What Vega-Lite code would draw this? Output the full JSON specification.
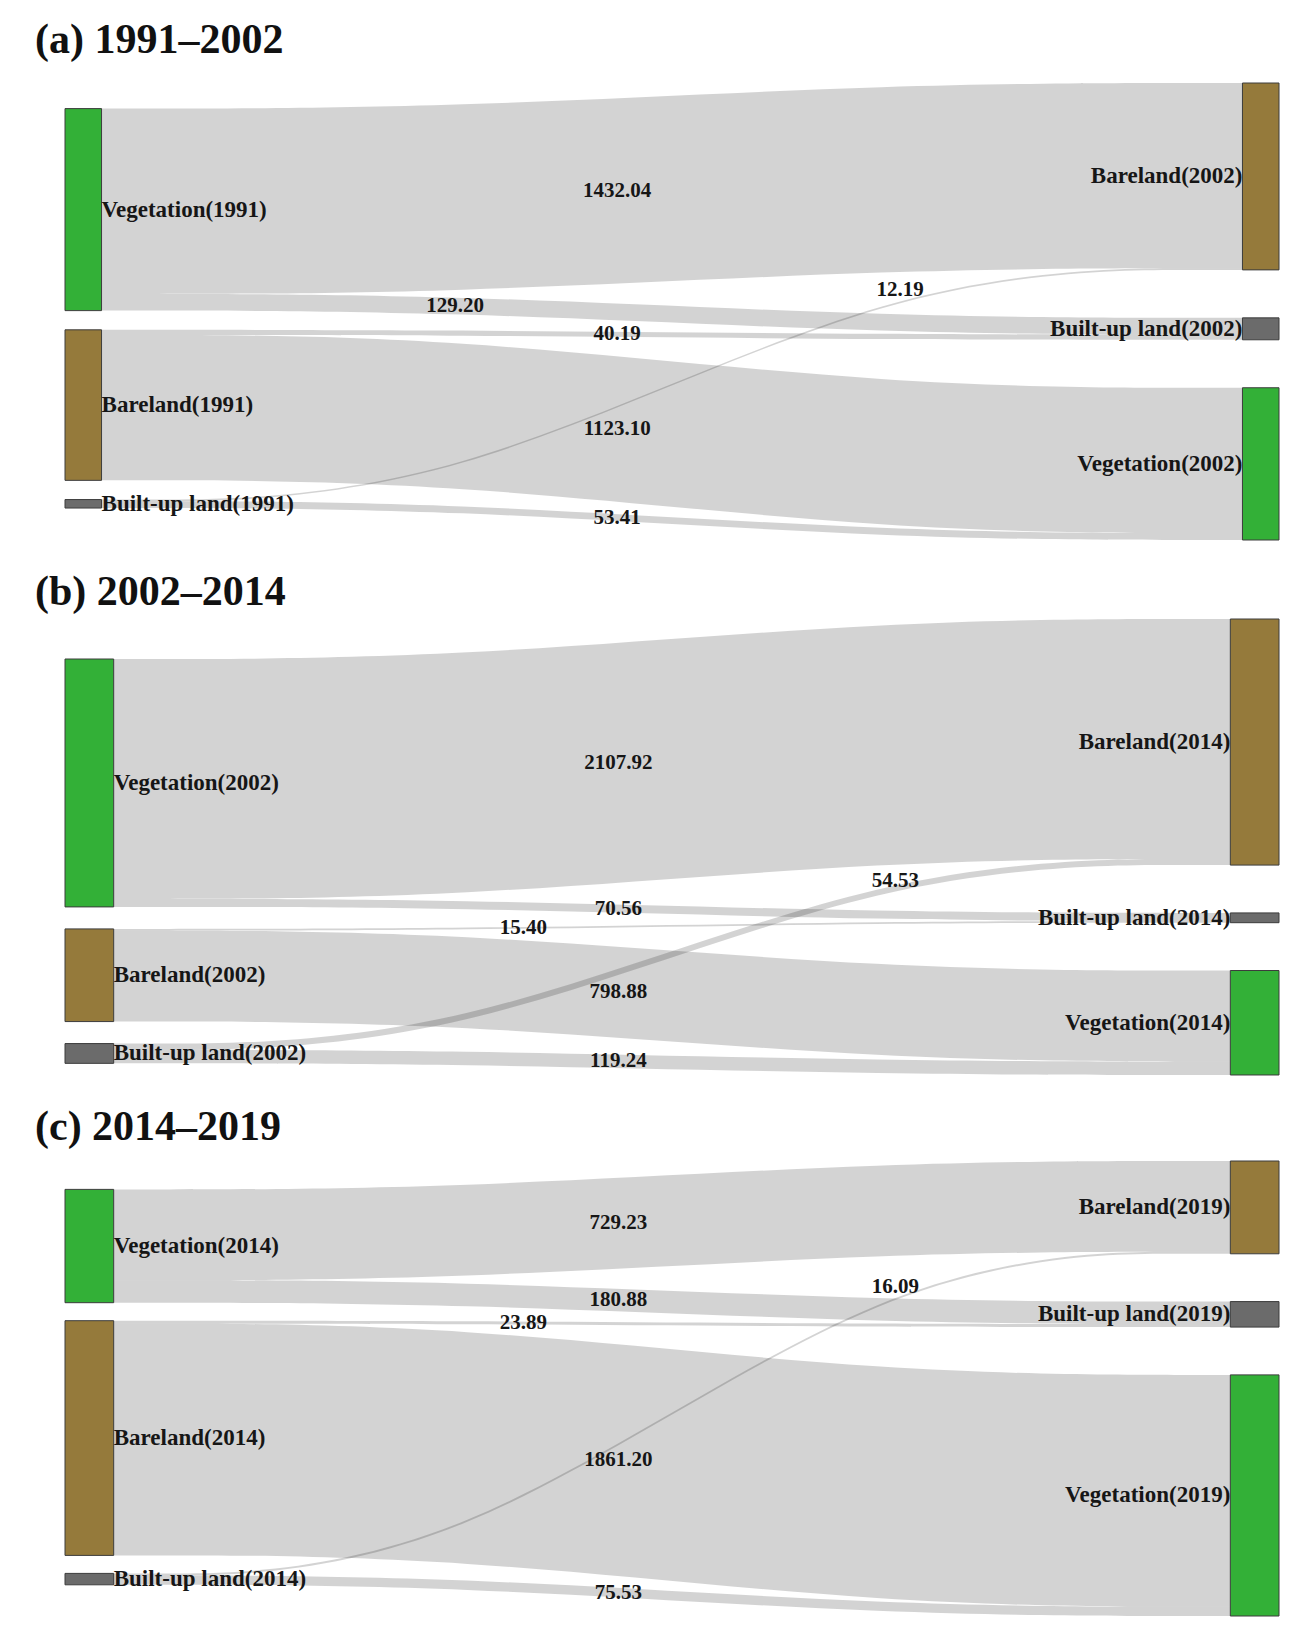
{
  "$schema": "https://vega.github.io/schema/vega-lite/v6.json",
  "background": "white",
  "padding": {"left": 35, "top": 18, "right": 5, "bottom": 5},
  "spacing": 29,
  "config": {
    "view": {"stroke": null},
    "font": "Liberation Serif",
    "title": {"font": "Liberation Serif", "fontSize": 42, "fontWeight": "bold", "anchor": "start", "frame": "group", "color": "#111111"},
    "text": {"font": "Liberation Serif", "fontWeight": "bold", "color": "#161616"}
  },
  "datasets": {
    "flows": [
      {"panel": "a", "from": "Vegetation", "to": "Bareland", "fromYear": "1991", "toYear": "2002", "value": 1432.04},
      {"panel": "a", "from": "Vegetation", "to": "Built-up land", "fromYear": "1991", "toYear": "2002", "value": 129.20},
      {"panel": "a", "from": "Bareland", "to": "Built-up land", "fromYear": "1991", "toYear": "2002", "value": 40.19},
      {"panel": "a", "from": "Bareland", "to": "Vegetation", "fromYear": "1991", "toYear": "2002", "value": 1123.10},
      {"panel": "a", "from": "Built-up land", "to": "Bareland", "fromYear": "1991", "toYear": "2002", "value": 12.19},
      {"panel": "a", "from": "Built-up land", "to": "Vegetation", "fromYear": "1991", "toYear": "2002", "value": 53.41},
      {"panel": "b", "from": "Vegetation", "to": "Bareland", "fromYear": "2002", "toYear": "2014", "value": 2107.92},
      {"panel": "b", "from": "Vegetation", "to": "Built-up land", "fromYear": "2002", "toYear": "2014", "value": 70.56},
      {"panel": "b", "from": "Bareland", "to": "Built-up land", "fromYear": "2002", "toYear": "2014", "value": 15.40},
      {"panel": "b", "from": "Bareland", "to": "Vegetation", "fromYear": "2002", "toYear": "2014", "value": 798.88},
      {"panel": "b", "from": "Built-up land", "to": "Bareland", "fromYear": "2002", "toYear": "2014", "value": 54.53},
      {"panel": "b", "from": "Built-up land", "to": "Vegetation", "fromYear": "2002", "toYear": "2014", "value": 119.24},
      {"panel": "c", "from": "Vegetation", "to": "Bareland", "fromYear": "2014", "toYear": "2019", "value": 729.23},
      {"panel": "c", "from": "Vegetation", "to": "Built-up land", "fromYear": "2014", "toYear": "2019", "value": 180.88},
      {"panel": "c", "from": "Bareland", "to": "Built-up land", "fromYear": "2014", "toYear": "2019", "value": 23.89},
      {"panel": "c", "from": "Bareland", "to": "Vegetation", "fromYear": "2014", "toYear": "2019", "value": 1861.20},
      {"panel": "c", "from": "Built-up land", "to": "Bareland", "fromYear": "2014", "toYear": "2019", "value": 16.09},
      {"panel": "c", "from": "Built-up land", "to": "Vegetation", "fromYear": "2014", "toYear": "2019", "value": 75.53}
    ]
  },
  "data": {"name": "flows"},
  "transform": [
    {"calculate": "indexof(['Vegetation','Bareland','Built-up land'], datum.from)", "as": "si"},
    {"calculate": "indexof(['Bareland','Built-up land','Vegetation'], datum.to)", "as": "ti"},
    {"window": [{"op": "sum", "field": "value", "as": "sCum"}], "groupby": ["panel"], "sort": [{"field": "si"}, {"field": "ti"}], "frame": [null, 0]},
    {"window": [{"op": "sum", "field": "value", "as": "tCum"}], "groupby": ["panel"], "sort": [{"field": "ti"}, {"field": "si"}], "frame": [null, 0]},
    {"calculate": "datum.panel=='a' ? 197.8 : datum.panel=='b' ? 351.5 : 228", "as": "oL"},
    {"calculate": "datum.panel=='a' ? 148.4 : datum.panel=='b' ? 193.3 : 144.6", "as": "gL"},
    {"calculate": "datum.panel=='a' ? 370.8 : datum.panel=='b' ? 420.2 : 383.9", "as": "gR"},
    {"calculate": "datum.panel=='a' ? 0.0301 : 0.0401", "as": "nw"},
    {"calculate": "datum.oL + datum.si*datum.gL + datum.sCum - datum.value", "as": "sTop"},
    {"calculate": "datum.sTop + datum.value", "as": "sBot"},
    {"calculate": "datum.ti*datum.gR + datum.tCum - datum.value", "as": "tTop"},
    {"calculate": "datum.tTop + datum.value", "as": "tBot"},
    {"calculate": "(datum.from=='Built-up land' && datum.to=='Bareland') ? 0.7 : (datum.panel=='a' && datum.from=='Vegetation' && datum.to=='Built-up land') ? 0.31 : (datum.panel!='a' && datum.from=='Bareland' && datum.to=='Built-up land') ? 0.367 : 0.452", "as": "lt"},
    {"calculate": "datum.nw + datum.lt*(1-2*datum.nw)", "as": "lx"},
    {"calculate": "datum.lt - (1.5*datum.lt - 1.5*datum.lt*datum.lt + datum.lt*datum.lt*datum.lt - datum.lt)/(1.5 - 3*datum.lt + 3*datum.lt*datum.lt)", "as": "bt"},
    {"calculate": "(datum.sTop+datum.sBot)/2 + ((datum.tTop+datum.tBot)/2 - (datum.sTop+datum.sBot)/2) * (3*datum.bt*datum.bt - 2*datum.bt*datum.bt*datum.bt)", "as": "ly"}
  ],
  "vconcat": [
    {
      "title": {"text": "(a) 1991–2002", "offset": 21, "dx": -30},
      "width": 1214, "height": 457,
      "transform": [{"filter": "datum.panel=='a'"}],
      "layer": [
        {
          "transform": [
            {"fold": ["sTop", "sBot", "tTop", "tBot"], "as": ["knot", "kv"]},
            {"calculate": "datum.knot=='sTop' ? datum.nw : datum.knot=='sBot' ? datum.nw+0.3*(1-2*datum.nw) : datum.knot=='tTop' ? 1-datum.nw-0.3*(1-2*datum.nw) : 1-datum.nw", "as": "px"},
            {"calculate": "(datum.knot=='sTop' || datum.knot=='sBot') ? datum.sTop : datum.tTop", "as": "ya"},
            {"calculate": "(datum.knot=='sTop' || datum.knot=='sBot') ? datum.sBot : datum.tBot", "as": "yb"},
            {"calculate": "datum.from + '>' + datum.to", "as": "link"}
          ],
          "mark": {"type": "area", "orient": "vertical", "interpolate": "basis", "fill": "#000000", "fillOpacity": 0.172, "strokeWidth": 0},
          "encoding": {
            "x": {"field": "px", "type": "quantitative", "scale": {"domain": [0, 1], "nice": false, "zero": false}, "axis": null},
            "y": {"field": "ya", "type": "quantitative", "scale": {"domain": [0, 3531.7], "reverse": true, "nice": false, "zero": false}, "axis": null, "stack": null},
            "y2": {"field": "yb"},
            "detail": {"field": "link", "type": "nominal"}
          }
        },
        {
          "transform": [
            {"fold": ["from", "to"], "as": ["side", "cls"]},
            {"calculate": "datum.side=='from' ? datum.sTop : datum.tTop", "as": "top"},
            {"calculate": "datum.side=='from' ? datum.sBot : datum.tBot", "as": "bot"},
            {"calculate": "datum.side=='from' ? datum.fromYear : datum.toYear", "as": "yr"},
            {"aggregate": [{"op": "min", "field": "top", "as": "top"}, {"op": "max", "field": "bot", "as": "bot"}], "groupby": ["side", "cls", "yr", "nw"]},
            {"calculate": "datum.side=='from' ? 0 : 1-datum.nw", "as": "xa"},
            {"calculate": "datum.side=='from' ? datum.nw : 1", "as": "xb"},
            {"calculate": "datum.cls + '(' + datum.yr + ')'", "as": "label"},
            {"calculate": "(datum.top+datum.bot)/2", "as": "mid"}
          ],
          "layer": [
            {
              "mark": {"type": "rect", "stroke": "#3c3c3c", "strokeWidth": 1},
              "encoding": {
                "x": {"field": "xa", "type": "quantitative", "scale": {"domain": [0, 1], "nice": false, "zero": false}, "axis": null},
                "x2": {"field": "xb"},
                "y": {"field": "top", "type": "quantitative", "scale": {"domain": [0, 3531.7], "reverse": true, "nice": false, "zero": false}, "axis": null},
                "y2": {"field": "bot"},
                "fill": {"field": "cls", "type": "nominal", "scale": {"domain": ["Vegetation", "Bareland", "Built-up land"], "range": ["#33b037", "#957a3b", "#6b6b6b"]}, "legend": null}
              }
            },
            {
              "transform": [{"filter": "datum.side=='from'"}],
              "mark": {"type": "text", "align": "left", "baseline": "middle", "fontSize": 23},
              "encoding": {
                "x": {"field": "xb", "type": "quantitative", "scale": {"domain": [0, 1], "nice": false, "zero": false}, "axis": null},
                "y": {"field": "mid", "type": "quantitative", "scale": {"domain": [0, 3531.7], "reverse": true, "nice": false, "zero": false}, "axis": null},
                "text": {"field": "label"}
              }
            },
            {
              "transform": [{"filter": "datum.side=='to'"}],
              "mark": {"type": "text", "align": "right", "baseline": "middle", "fontSize": 23},
              "encoding": {
                "x": {"field": "xa", "type": "quantitative", "scale": {"domain": [0, 1], "nice": false, "zero": false}, "axis": null},
                "y": {"field": "mid", "type": "quantitative", "scale": {"domain": [0, 3531.7], "reverse": true, "nice": false, "zero": false}, "axis": null},
                "text": {"field": "label"}
              }
            }
          ]
        },
        {
          "transform": [{"filter": "!(datum.from=='Built-up land' && datum.to=='Bareland')"}],
          "mark": {"type": "text", "align": "center", "baseline": "middle", "fontSize": 21},
          "encoding": {
            "x": {"field": "lx", "type": "quantitative", "scale": {"domain": [0, 1], "nice": false, "zero": false}, "axis": null},
            "y": {"field": "ly", "type": "quantitative", "scale": {"domain": [0, 3531.7], "reverse": true, "nice": false, "zero": false}, "axis": null},
            "text": {"field": "value", "type": "quantitative", "format": ".2f"}
          }
        },
        {
          "transform": [{"filter": "datum.from=='Built-up land' && datum.to=='Bareland'"}],
          "mark": {"type": "text", "align": "center", "baseline": "middle", "fontSize": 21, "dy": -16},
          "encoding": {
            "x": {"field": "lx", "type": "quantitative", "scale": {"domain": [0, 1], "nice": false, "zero": false}, "axis": null},
            "y": {"field": "ly", "type": "quantitative", "scale": {"domain": [0, 3531.7], "reverse": true, "nice": false, "zero": false}, "axis": null},
            "text": {"field": "value", "type": "quantitative", "format": ".2f"}
          }
        }
      ]
    },
    {
      "title": {"text": "(b) 2002–2014", "offset": 5, "dx": -30},
      "width": 1214, "height": 456,
      "transform": [{"filter": "datum.panel=='b'"}],
      "layer": [
        {
          "transform": [
            {"fold": ["sTop", "sBot", "tTop", "tBot"], "as": ["knot", "kv"]},
            {"calculate": "datum.knot=='sTop' ? datum.nw : datum.knot=='sBot' ? datum.nw+0.3*(1-2*datum.nw) : datum.knot=='tTop' ? 1-datum.nw-0.3*(1-2*datum.nw) : 1-datum.nw", "as": "px"},
            {"calculate": "(datum.knot=='sTop' || datum.knot=='sBot') ? datum.sTop : datum.tTop", "as": "ya"},
            {"calculate": "(datum.knot=='sTop' || datum.knot=='sBot') ? datum.sBot : datum.tBot", "as": "yb"},
            {"calculate": "datum.from + '>' + datum.to", "as": "link"}
          ],
          "mark": {"type": "area", "orient": "vertical", "interpolate": "basis", "fill": "#000000", "fillOpacity": 0.172, "strokeWidth": 0},
          "encoding": {
            "x": {"field": "px", "type": "quantitative", "scale": {"domain": [0, 1], "nice": false, "zero": false}, "axis": null},
            "y": {"field": "ya", "type": "quantitative", "scale": {"domain": [0, 4007], "reverse": true, "nice": false, "zero": false}, "axis": null, "stack": null},
            "y2": {"field": "yb"},
            "detail": {"field": "link", "type": "nominal"}
          }
        },
        {
          "transform": [
            {"fold": ["from", "to"], "as": ["side", "cls"]},
            {"calculate": "datum.side=='from' ? datum.sTop : datum.tTop", "as": "top"},
            {"calculate": "datum.side=='from' ? datum.sBot : datum.tBot", "as": "bot"},
            {"calculate": "datum.side=='from' ? datum.fromYear : datum.toYear", "as": "yr"},
            {"aggregate": [{"op": "min", "field": "top", "as": "top"}, {"op": "max", "field": "bot", "as": "bot"}], "groupby": ["side", "cls", "yr", "nw"]},
            {"calculate": "datum.side=='from' ? 0 : 1-datum.nw", "as": "xa"},
            {"calculate": "datum.side=='from' ? datum.nw : 1", "as": "xb"},
            {"calculate": "datum.cls + '(' + datum.yr + ')'", "as": "label"},
            {"calculate": "(datum.top+datum.bot)/2", "as": "mid"}
          ],
          "layer": [
            {
              "mark": {"type": "rect", "stroke": "#3c3c3c", "strokeWidth": 1},
              "encoding": {
                "x": {"field": "xa", "type": "quantitative", "scale": {"domain": [0, 1], "nice": false, "zero": false}, "axis": null},
                "x2": {"field": "xb"},
                "y": {"field": "top", "type": "quantitative", "scale": {"domain": [0, 4007], "reverse": true, "nice": false, "zero": false}, "axis": null},
                "y2": {"field": "bot"},
                "fill": {"field": "cls", "type": "nominal", "scale": {"domain": ["Vegetation", "Bareland", "Built-up land"], "range": ["#33b037", "#957a3b", "#6b6b6b"]}, "legend": null}
              }
            },
            {
              "transform": [{"filter": "datum.side=='from'"}],
              "mark": {"type": "text", "align": "left", "baseline": "middle", "fontSize": 23},
              "encoding": {
                "x": {"field": "xb", "type": "quantitative", "scale": {"domain": [0, 1], "nice": false, "zero": false}, "axis": null},
                "y": {"field": "mid", "type": "quantitative", "scale": {"domain": [0, 4007], "reverse": true, "nice": false, "zero": false}, "axis": null},
                "text": {"field": "label"}
              }
            },
            {
              "transform": [{"filter": "datum.side=='to'"}],
              "mark": {"type": "text", "align": "right", "baseline": "middle", "fontSize": 23},
              "encoding": {
                "x": {"field": "xa", "type": "quantitative", "scale": {"domain": [0, 1], "nice": false, "zero": false}, "axis": null},
                "y": {"field": "mid", "type": "quantitative", "scale": {"domain": [0, 4007], "reverse": true, "nice": false, "zero": false}, "axis": null},
                "text": {"field": "label"}
              }
            }
          ]
        },
        {
          "transform": [{"filter": "!(datum.from=='Built-up land' && datum.to=='Bareland')"}],
          "mark": {"type": "text", "align": "center", "baseline": "middle", "fontSize": 21},
          "encoding": {
            "x": {"field": "lx", "type": "quantitative", "scale": {"domain": [0, 1], "nice": false, "zero": false}, "axis": null},
            "y": {"field": "ly", "type": "quantitative", "scale": {"domain": [0, 4007], "reverse": true, "nice": false, "zero": false}, "axis": null},
            "text": {"field": "value", "type": "quantitative", "format": ".2f"}
          }
        },
        {
          "transform": [{"filter": "datum.from=='Built-up land' && datum.to=='Bareland'"}],
          "mark": {"type": "text", "align": "center", "baseline": "middle", "fontSize": 21, "dy": -10},
          "encoding": {
            "x": {"field": "lx", "type": "quantitative", "scale": {"domain": [0, 1], "nice": false, "zero": false}, "axis": null},
            "y": {"field": "ly", "type": "quantitative", "scale": {"domain": [0, 4007], "reverse": true, "nice": false, "zero": false}, "axis": null},
            "text": {"field": "value", "type": "quantitative", "format": ".2f"}
          }
        }
      ]
    },
    {
      "title": {"text": "(c) 2014–2019", "offset": 12, "dx": -30},
      "width": 1214, "height": 455,
      "transform": [{"filter": "datum.panel=='c'"}],
      "layer": [
        {
          "transform": [
            {"fold": ["sTop", "sBot", "tTop", "tBot"], "as": ["knot", "kv"]},
            {"calculate": "datum.knot=='sTop' ? datum.nw : datum.knot=='sBot' ? datum.nw+0.3*(1-2*datum.nw) : datum.knot=='tTop' ? 1-datum.nw-0.3*(1-2*datum.nw) : 1-datum.nw", "as": "px"},
            {"calculate": "(datum.knot=='sTop' || datum.knot=='sBot') ? datum.sTop : datum.tTop", "as": "ya"},
            {"calculate": "(datum.knot=='sTop' || datum.knot=='sBot') ? datum.sBot : datum.tBot", "as": "yb"},
            {"calculate": "datum.from + '>' + datum.to", "as": "link"}
          ],
          "mark": {"type": "area", "orient": "vertical", "interpolate": "basis", "fill": "#000000", "fillOpacity": 0.172, "strokeWidth": 0},
          "encoding": {
            "x": {"field": "px", "type": "quantitative", "scale": {"domain": [0, 1], "nice": false, "zero": false}, "axis": null},
            "y": {"field": "ya", "type": "quantitative", "scale": {"domain": [0, 3654.6], "reverse": true, "nice": false, "zero": false}, "axis": null, "stack": null},
            "y2": {"field": "yb"},
            "detail": {"field": "link", "type": "nominal"}
          }
        },
        {
          "transform": [
            {"fold": ["from", "to"], "as": ["side", "cls"]},
            {"calculate": "datum.side=='from' ? datum.sTop : datum.tTop", "as": "top"},
            {"calculate": "datum.side=='from' ? datum.sBot : datum.tBot", "as": "bot"},
            {"calculate": "datum.side=='from' ? datum.fromYear : datum.toYear", "as": "yr"},
            {"aggregate": [{"op": "min", "field": "top", "as": "top"}, {"op": "max", "field": "bot", "as": "bot"}], "groupby": ["side", "cls", "yr", "nw"]},
            {"calculate": "datum.side=='from' ? 0 : 1-datum.nw", "as": "xa"},
            {"calculate": "datum.side=='from' ? datum.nw : 1", "as": "xb"},
            {"calculate": "datum.cls + '(' + datum.yr + ')'", "as": "label"},
            {"calculate": "(datum.top+datum.bot)/2", "as": "mid"}
          ],
          "layer": [
            {
              "mark": {"type": "rect", "stroke": "#3c3c3c", "strokeWidth": 1},
              "encoding": {
                "x": {"field": "xa", "type": "quantitative", "scale": {"domain": [0, 1], "nice": false, "zero": false}, "axis": null},
                "x2": {"field": "xb"},
                "y": {"field": "top", "type": "quantitative", "scale": {"domain": [0, 3654.6], "reverse": true, "nice": false, "zero": false}, "axis": null},
                "y2": {"field": "bot"},
                "fill": {"field": "cls", "type": "nominal", "scale": {"domain": ["Vegetation", "Bareland", "Built-up land"], "range": ["#33b037", "#957a3b", "#6b6b6b"]}, "legend": null}
              }
            },
            {
              "transform": [{"filter": "datum.side=='from'"}],
              "mark": {"type": "text", "align": "left", "baseline": "middle", "fontSize": 23},
              "encoding": {
                "x": {"field": "xb", "type": "quantitative", "scale": {"domain": [0, 1], "nice": false, "zero": false}, "axis": null},
                "y": {"field": "mid", "type": "quantitative", "scale": {"domain": [0, 3654.6], "reverse": true, "nice": false, "zero": false}, "axis": null},
                "text": {"field": "label"}
              }
            },
            {
              "transform": [{"filter": "datum.side=='to'"}],
              "mark": {"type": "text", "align": "right", "baseline": "middle", "fontSize": 23},
              "encoding": {
                "x": {"field": "xa", "type": "quantitative", "scale": {"domain": [0, 1], "nice": false, "zero": false}, "axis": null},
                "y": {"field": "mid", "type": "quantitative", "scale": {"domain": [0, 3654.6], "reverse": true, "nice": false, "zero": false}, "axis": null},
                "text": {"field": "label"}
              }
            }
          ]
        },
        {
          "transform": [{"filter": "!(datum.from=='Built-up land' && datum.to=='Bareland')"}],
          "mark": {"type": "text", "align": "center", "baseline": "middle", "fontSize": 21},
          "encoding": {
            "x": {"field": "lx", "type": "quantitative", "scale": {"domain": [0, 1], "nice": false, "zero": false}, "axis": null},
            "y": {"field": "ly", "type": "quantitative", "scale": {"domain": [0, 3654.6], "reverse": true, "nice": false, "zero": false}, "axis": null},
            "text": {"field": "value", "type": "quantitative", "format": ".2f"}
          }
        },
        {
          "transform": [{"filter": "datum.from=='Built-up land' && datum.to=='Bareland'"}],
          "mark": {"type": "text", "align": "center", "baseline": "middle", "fontSize": 21, "dy": -17},
          "encoding": {
            "x": {"field": "lx", "type": "quantitative", "scale": {"domain": [0, 1], "nice": false, "zero": false}, "axis": null},
            "y": {"field": "ly", "type": "quantitative", "scale": {"domain": [0, 3654.6], "reverse": true, "nice": false, "zero": false}, "axis": null},
            "text": {"field": "value", "type": "quantitative", "format": ".2f"}
          }
        }
      ]
    }
  ]
}
